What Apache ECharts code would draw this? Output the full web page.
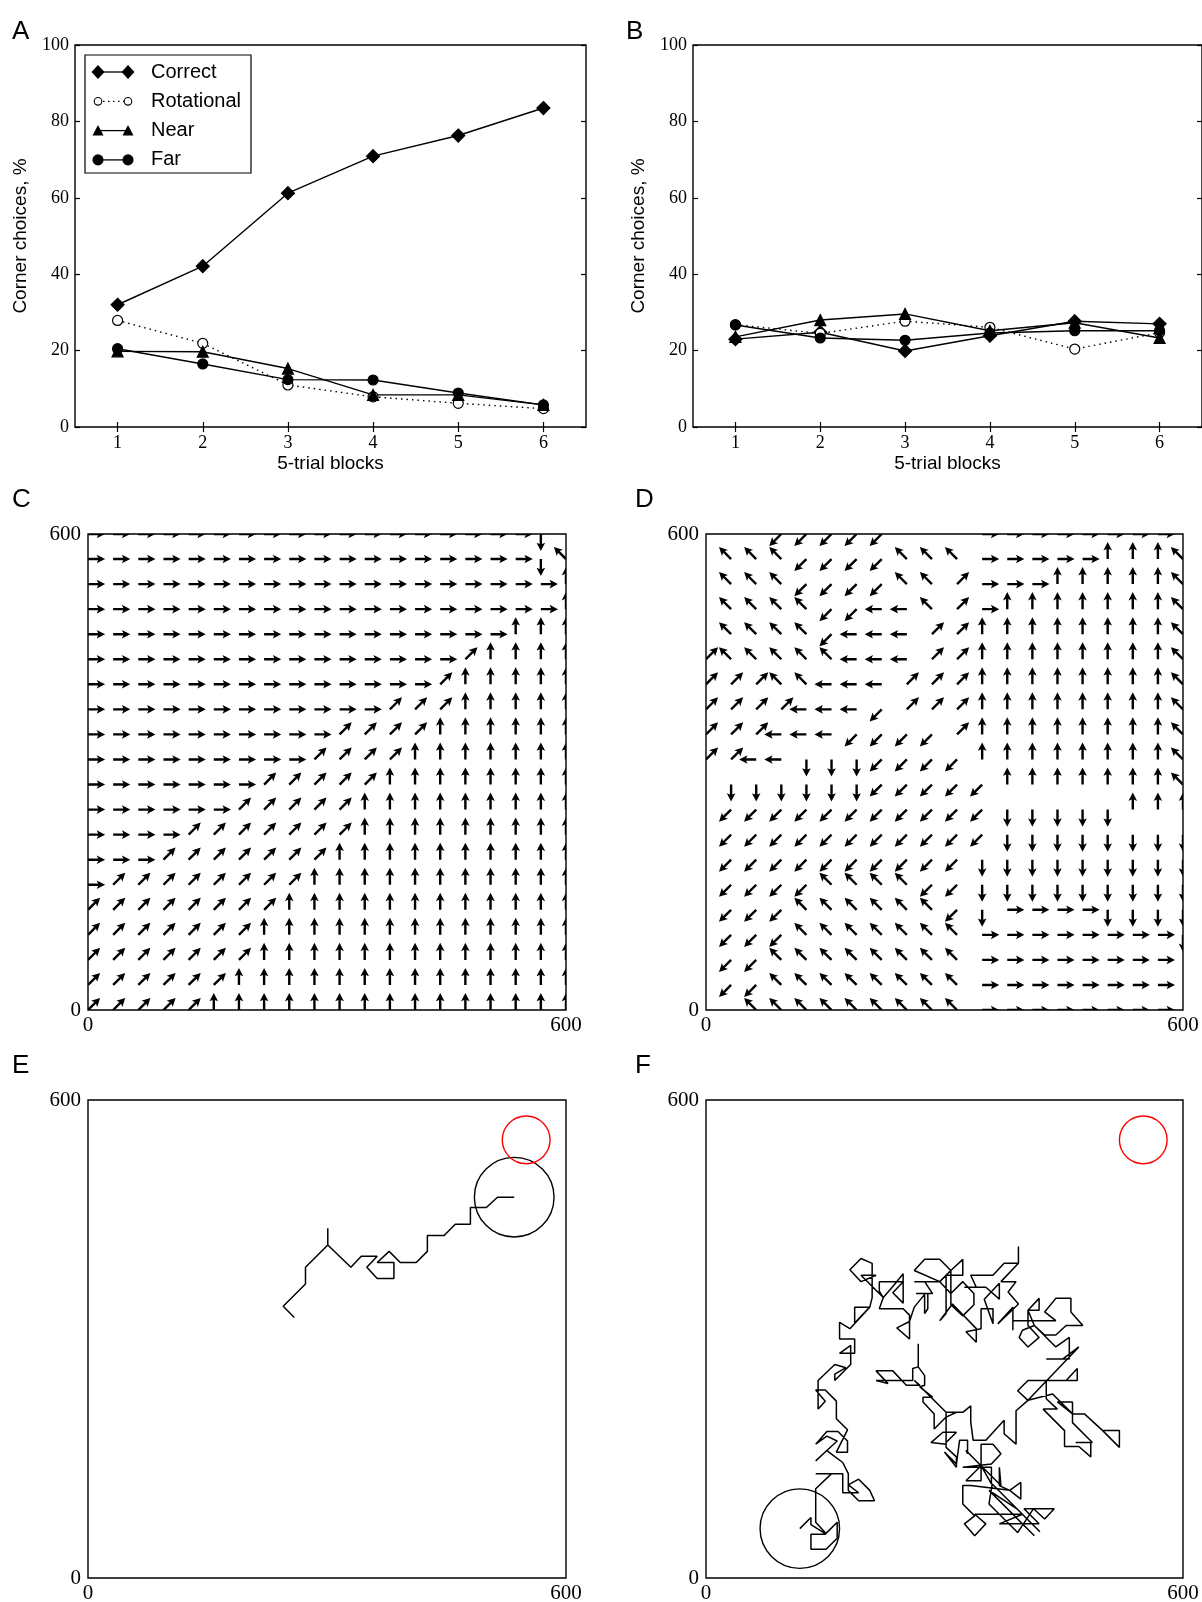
<!DOCTYPE html>
<html>
<head>
<meta charset="utf-8">
<script src="https://cdn.jsdelivr.net/npm/echarts@6/dist/echarts.min.js"></script>
<style>
  html, body { margin: 0; padding: 0; background: #fff; }
  #chart { width: 1202px; height: 1602px; }
</style>
</head>
<body>
<div id="chart"></div>
<script>
// ---- panels A / B : corner choices per 5-trial block ----
const blocks = ["1", "2", "3", "4", "5", "6"];
const choiceNames = ["Correct", "Rotational", "Near", "Far"];

const trainedCorrect = [32.0, 42.1, 61.2, 70.9, 76.3, 83.5];
const trainedRotational = [27.9, 21.9, 11.0, 7.9, 6.2, 4.8];
const trainedNear = [19.8, 19.7, 15.3, 8.4, 8.4, 5.8];
const trainedFar = [20.5, 16.5, 12.4, 12.3, 8.9, 5.8];

const controlCorrect = [23.0, 24.8, 19.9, 23.9, 27.7, 27.0];
const controlRotational = [26.8, 24.5, 27.7, 26.1, 20.4, 24.7];
const controlNear = [23.6, 28.0, 29.6, 25.2, 27.3, 23.3];
const controlFar = [26.7, 23.3, 22.7, 24.6, 25.2, 25.2];

const percentTicks = [0, 100, 20]; // min, max, step

// ---- panels C / D : preferred heading on a 20 x 20 grid over the 600 x 600 arena ----
// one string per grid row, bottom row first; numpad codes: 6 E, 9 NE, 8 N, 7 NW, 4 W, 1 SW, 2 S, 3 SE, 0 none
const fieldTrained = [
  "99999888888888888888",
  "99999988888888888888",
  "99999998888888888888",
  "99999998888888888888",
  "99999999888888888888",
  "69999999988888888888",
  "66699999998888888888",
  "66669999999888888888",
  "66666699999888888888",
  "66666669999988888888",
  "66666666699998888888",
  "66666666669999888888",
  "66666666666699988888",
  "66666666666666988888",
  "66666666666666698888",
  "66666666666666666888",
  "66666666666666666668",
  "66666666666666666668",
  "66666666666666666627",
  "66666666666666666620"
];
const fieldControl = [
  "00777777777666666660",
  "01177777777666666660",
  "01177777777666666660",
  "01117777777666666662",
  "01117777771266662222",
  "01111777711222222222",
  "01111111111222222222",
  "01111111111122222222",
  "01111111111122222888",
  "02222221111188888887",
  "99442221111888888887",
  "99944411119888888887",
  "99994441999888888887",
  "99977444999888888887",
  "97777744499888888887",
  "07777144499888888887",
  "07777114479688888887",
  "07771111779666888887",
  "07771111777666668887",
  "00011111000666666660"
];
const arenaTicks = [0, 600];

// ---- panels E / F : swim paths (x, y in arena units) ----
const ePath = [[259,327],[245,341],[273,369],[273,390],[301,418],[301,439],[301,418],[330,390],[343,404],
  [363,404],[350,390],[363,376],[384,376],[384,396],[363,396],[378,410],[392,396],[412,396],[426,410],
  [426,430],[447,430],[461,444],[480,444],[480,465],[500,465],[514,478],[535,478]];
const eEndZone = [535, 478, 50];
const ePlatform = [550, 550, 30];

const fPath = [
  [118,62],[132,76],[132,67],[151,55],[132,55],[132,36],[151,36],[165,50],[165,70],[151,56],[138,70],
  [138,112],[158,131],[138,131],[172,131],[172,107],[192,107],[179,117],[192,124],[206,110],[212,97],
  [192,97],[179,110],[179,131],[172,145],[152,160],[138,147],[152,160],[165,172],[152,178],[138,168],
  [152,184],[166,184],[178,172],[178,158],[164,158],[178,186],[164,200],[164,222],[150,236],[138,236],
  [150,222],[141,212],[141,248],[162,268],[176,264],[162,256],[162,248],[176,262],[182,268],[182,292],
  [168,282],[187,282],[187,300],[168,300],[168,321],[181,313],[206,340],[187,340],[187,320],[206,340],
  [209,352],[209,395],[195,401],[181,387],[195,372],[214,380],[195,380],[223,352],[218,360],[218,372],
  [248,372],[235,358],[248,345],[248,382],[235,366],[223,352],[218,338],[248,338],[256,330],[256,300],
  [240,314],[256,322],[262,340],[275,356],[275,332],[279,338],[279,357],[264,357],[285,357],[275,372],
  [262,372],[294,372],[262,386],[275,400],[294,400],[308,386],[294,372],[308,357],[323,372],[337,357],
  [337,343],[323,329],[308,343],[308,386],[323,400],[323,380],[302,380],[302,332],
  [294,323],[310,344],[340,313],[340,296],[327,309],[346,313],[346,338],[361,338],[361,319],[350,350],
  [369,370],[369,350],[352,365],[325,365],[340,365],[333,380],[361,380],[375,395],[393,395],[393,416],
  [393,395],[371,372],[390,372],[380,359],[393,344],[367,319],[386,340],[386,311],[386,323],[440,323],
  [426,334],[440,351],[459,351],[459,334],[474,317],[453,317],[440,305],[426,305],[413,317],[398,311],
  [394,302],[405,290],[419,302],[405,317],[405,336],[419,336],[419,351],[405,336],[413,317],[440,290],
  [457,302],[457,275],[428,275],[449,275],[469,290],[405,223],[392,235],[405,248],[467,248],[467,263],
  [453,248],[428,248],[428,225],[442,212],[424,212],[451,185],[451,165],[469,165],[484,152],[484,170],
  [465,170],[486,170],[461,195],[461,221],[442,221],[461,206],[476,206],[499,185],[520,185],[520,164],
  [499,185],[476,206],[461,206],[436,231],[405,223],[390,210],[390,168],[375,181],[375,198],[352,173],
  [336,173],[333,196],[333,216],[323,208],[302,208],[315,208],[302,202],[287,187],[287,206],[273,221],
  [273,227],[285,227],[269,240],[275,242],[275,254],[267,265],[267,294],[267,265],[260,263],[260,248],
  [214,248],[229,244],[214,260],[235,260],[252,242],[269,242],[262,248],[283,227],[302,208],[302,168],
  [283,170],[298,183],[315,183],[302,170],[302,164],[315,152],[315,139],[300,158],[315,143],[319,173],
  [329,173],[329,156],[327,160],[346,141],[346,122],[327,122],[346,141],[346,168],[361,168],[371,156],
  [359,143],[323,139],[359,139],[359,118],[346,141],[371,116],[369,139],[369,116],[382,110],[396,120],
  [396,99],[382,110],[333,116],[323,116],[323,93],[338,78],[325,68],[338,53],[352,68],[338,80],[367,80],
  [398,80],[369,68],[419,68],[400,87],[438,87],[426,74],[412,87],[392,57],[356,93],[360,118],[420,58],
  [392,86],[356,110],[413,53]
];
const fStartZone = [118, 62, 50];
const fPlatform = [550, 550, 30];

// ---------------------------------------------------------------
const serifFont = "Liberation Serif";
const sansFont = "Liberation Sans";
const gridStep = 600 / 19;
const arrowLen = 21.5;

const dirVec = {
  6: [1, 0], 4: [-1, 0], 8: [0, 1], 2: [0, -1],
  9: [0.7071, 0.7071], 7: [-0.7071, 0.7071], 1: [-0.7071, -0.7071], 3: [0.7071, -0.7071]
};

function quiverData(rows) {
  let out = [];
  rows.forEach((row, j) => {
    for (let i = 0; i < row.length; i++) {
      if (row[i] === "0") continue;
      out.push([i * gridStep, j * gridStep, Number(row[i])]);
    }
  });
  return out;
}

function renderArrow(params, api) {
  let x = api.value(0), y = api.value(1);
  let d = dirVec[api.value(2)];
  let t = api.coord([x, y]);
  let h = api.coord([x + arrowLen * d[0], y + arrowLen * d[1]]);
  let ux = h[0] - t[0], uy = h[1] - t[1];
  let len = Math.sqrt(ux * ux + uy * uy);
  ux /= len; uy /= len;
  let nx = -uy, ny = ux;
  // shaft half width, head half width, head length, notch position
  let a = 1.2, b = 4.3, hl = 8.4, ha = 7.0;
  let pts = [
    [t[0] + nx * a, t[1] + ny * a],
    [h[0] - ux * ha + nx * a, h[1] - uy * ha + ny * a],
    [h[0] - ux * hl + nx * b, h[1] - uy * hl + ny * b],
    [h[0], h[1]],
    [h[0] - ux * hl - nx * b, h[1] - uy * hl - ny * b],
    [h[0] - ux * ha - nx * a, h[1] - uy * ha - ny * a],
    [t[0] - nx * a, t[1] - ny * a]
  ];
  return { type: "polygon", shape: { points: pts }, style: { fill: "#000" } };
}

function ringRenderer(color) {
  return function (params, api) {
    let c = api.coord([api.value(0), api.value(1)]);
    let r = api.size([api.value(2), 0])[0];
    return {
      type: "circle",
      shape: { cx: c[0], cy: c[1], r: r },
      style: { fill: "none", stroke: color, lineWidth: 1.4 }
    };
  };
}

// layout of the six panels (px)
const grids = [
  { left: 75, top: 45, width: 511, height: 382 },
  { left: 693, top: 45, width: 509, height: 382 },
  { left: 88, top: 534, width: 478, height: 476 },
  { left: 706, top: 534, width: 477, height: 476 },
  { left: 88, top: 1100, width: 478, height: 478 },
  { left: 706, top: 1100, width: 477, height: 478 }
].map(g => Object.assign(g, {
  show: true, borderColor: "#000", borderWidth: 1.4, backgroundColor: "transparent",
  containLabel: false, outerBoundsMode: "none"
}));

const serifLabel = (size) => ({ color: "#000", fontFamily: serifFont, fontSize: size });

function blockAxis(gridIndex, top) {
  return {
    type: "category", gridIndex: gridIndex, position: top ? "top" : "bottom",
    data: blocks, boundaryGap: true,
    axisLine: { show: false },
    axisTick: { show: true, inside: true, alignWithLabel: true, length: 5, lineStyle: { color: "#000", width: 1.2 } },
    axisLabel: top ? { show: false } : Object.assign({ margin: 7 }, serifLabel(18)),
    splitLine: { show: false },
    name: top ? "" : "5-trial blocks",
    nameLocation: "middle", nameGap: 27,
    nameTextStyle: { color: "#000", fontFamily: sansFont, fontSize: 19 }
  };
}
function percentAxis(gridIndex, right) {
  return {
    type: "value", gridIndex: gridIndex, position: right ? "right" : "left",
    min: percentTicks[0], max: percentTicks[1], interval: percentTicks[2],
    axisLine: { show: false },
    axisTick: { show: true, inside: true, length: 5, lineStyle: { color: "#000", width: 1.2 } },
    axisLabel: right ? { show: false } : Object.assign({ margin: 6 }, serifLabel(18)),
    splitLine: { show: false },
    name: right ? "" : "Corner choices, %",
    nameLocation: "middle", nameGap: 45, nameRotate: 90,
    nameTextStyle: { color: "#000", fontFamily: sansFont, fontSize: 19 }
  };
}
function arenaAxis(gridIndex, isY) {
  return {
    type: "value", gridIndex: gridIndex,
    min: arenaTicks[0], max: arenaTicks[1], interval: arenaTicks[1] - arenaTicks[0],
    axisLine: { show: false }, axisTick: { show: false }, splitLine: { show: false },
    axisLabel: Object.assign({ margin: isY ? 7 : 5, showMinLabel: true, showMaxLabel: true }, serifLabel(21))
  };
}

const markerStyle = {
  Correct: { symbol: "diamond", size: 13, fill: "#000", dash: "solid" },
  Rotational: { symbol: "circle", size: 10, fill: "#fff", dash: [1.5, 4] },
  Near: { symbol: "triangle", size: 11, fill: "#000", dash: "solid" },
  Far: { symbol: "circle", size: 10, fill: "#000", dash: "solid" }
};

function choiceSeries(name, values, axisIndex) {
  let m = markerStyle[name];
  return {
    type: "line", name: name, xAxisIndex: axisIndex, yAxisIndex: axisIndex,
    data: values, symbol: m.symbol, symbolSize: m.size, showSymbol: true,
    lineStyle: { color: "#000", width: 1.4, type: m.dash },
    itemStyle: { color: m.fill, borderColor: "#000", borderWidth: 1.2 },
    animation: false, silent: true
  };
}

// hand-built legend for panel A (markers on both ends, as in the original)
const legendBox = { x: 85, y: 55, w: 166, h: 118 };
function legendGraphics() {
  let els = [{
    type: "rect", z: 100,
    shape: { x: legendBox.x, y: legendBox.y, width: legendBox.w, height: legendBox.h },
    style: { fill: "#fff", stroke: "#000", lineWidth: 1.2 }
  }];
  choiceNames.forEach((name, i) => {
    let cy = legendBox.y + 17 + i * 29.3;
    let x1 = legendBox.x + 13, x2 = legendBox.x + 43;
    let m = markerStyle[name];
    els.push({
      type: "line", z: 101, shape: { x1: x1, y1: cy, x2: x2, y2: cy },
      style: { stroke: "#000", lineWidth: 1.3, lineDash: name === "Rotational" ? [1.5, 3.5] : null }
    });
    [x1, x2].forEach(cx => {
      if (m.symbol === "diamond") {
        els.push({ type: "polygon", z: 102, shape: { points: [[cx - 6.5, cy], [cx, cy - 7], [cx + 6.5, cy], [cx, cy + 7]] }, style: { fill: "#000" } });
      } else if (m.symbol === "triangle") {
        els.push({ type: "polygon", z: 102, shape: { points: [[cx - 5.5, cy + 5], [cx, cy - 5.5], [cx + 5.5, cy + 5]] }, style: { fill: "#000" } });
      } else {
        els.push({ type: "circle", z: 102, shape: { cx: cx, cy: cy, r: name === "Rotational" ? 3.8 : 5 }, style: { fill: m.fill, stroke: "#000", lineWidth: 1.1 } });
      }
    });
    els.push({
      type: "text", z: 102, x: legendBox.x + 66, y: cy,
      style: { text: name, fill: "#000", font: "20px " + sansFont, textVerticalAlign: "middle", verticalAlign: "middle" }
    });
  });
  return els;
}

const panelLetters = [
  { text: "A", left: 12, top: 19 }, { text: "B", left: 626, top: 19 },
  { text: "C", left: 12, top: 487 }, { text: "D", left: 635, top: 487 },
  { text: "E", left: 12, top: 1053 }, { text: "F", left: 635, top: 1053 }
].map(t => Object.assign(t, { padding: 0, textStyle: { color: "#000", fontFamily: sansFont, fontSize: 26, fontWeight: "normal" } }));

const option = {
  backgroundColor: "#fff",
  animation: false,
  title: panelLetters,
  grid: grids,
  xAxis: [
    blockAxis(0, false), blockAxis(0, true), blockAxis(1, false), blockAxis(1, true),
    arenaAxis(2, false), arenaAxis(3, false), arenaAxis(4, false), arenaAxis(5, false)
  ],
  yAxis: [
    percentAxis(0, false), percentAxis(0, true), percentAxis(1, false), percentAxis(1, true),
    arenaAxis(2, true), arenaAxis(3, true), arenaAxis(4, true), arenaAxis(5, true)
  ],
  graphic: legendGraphics(),
  series: [
    choiceSeries("Correct", trainedCorrect, 0),
    choiceSeries("Rotational", trainedRotational, 0),
    choiceSeries("Near", trainedNear, 0),
    choiceSeries("Far", trainedFar, 0),
    choiceSeries("Correct", controlCorrect, 2),
    choiceSeries("Rotational", controlRotational, 2),
    choiceSeries("Near", controlNear, 2),
    choiceSeries("Far", controlFar, 2),
    {
      type: "custom", xAxisIndex: 4, yAxisIndex: 4, clip: true, silent: true,
      dimensions: ["x", "y", "dir"], encode: { x: 0, y: 1 },
      data: quiverData(fieldTrained), renderItem: renderArrow
    },
    {
      type: "custom", xAxisIndex: 5, yAxisIndex: 5, clip: true, silent: true,
      dimensions: ["x", "y", "dir"], encode: { x: 0, y: 1 },
      data: quiverData(fieldControl), renderItem: renderArrow
    },
    {
      type: "line", xAxisIndex: 6, yAxisIndex: 6, data: ePath, showSymbol: false, symbol: "none",
      lineStyle: { color: "#000", width: 1.5 }, silent: true
    },
    {
      type: "custom", xAxisIndex: 6, yAxisIndex: 6, clip: true, silent: true,
      data: [eEndZone], renderItem: ringRenderer("#000")
    },
    {
      type: "custom", xAxisIndex: 6, yAxisIndex: 6, clip: true, silent: true,
      data: [ePlatform], renderItem: ringRenderer("#ff0000")
    },
    {
      type: "line", xAxisIndex: 7, yAxisIndex: 7, data: fPath, showSymbol: false, symbol: "none",
      lineStyle: { color: "#000", width: 1.5 }, silent: true
    },
    {
      type: "custom", xAxisIndex: 7, yAxisIndex: 7, clip: true, silent: true,
      data: [fStartZone], renderItem: ringRenderer("#000")
    },
    {
      type: "custom", xAxisIndex: 7, yAxisIndex: 7, clip: true, silent: true,
      data: [fPlatform], renderItem: ringRenderer("#ff0000")
    }
  ]
};

let myChart = echarts.init(document.getElementById("chart"));
myChart.setOption(option);
</script>
</body>
</html>
